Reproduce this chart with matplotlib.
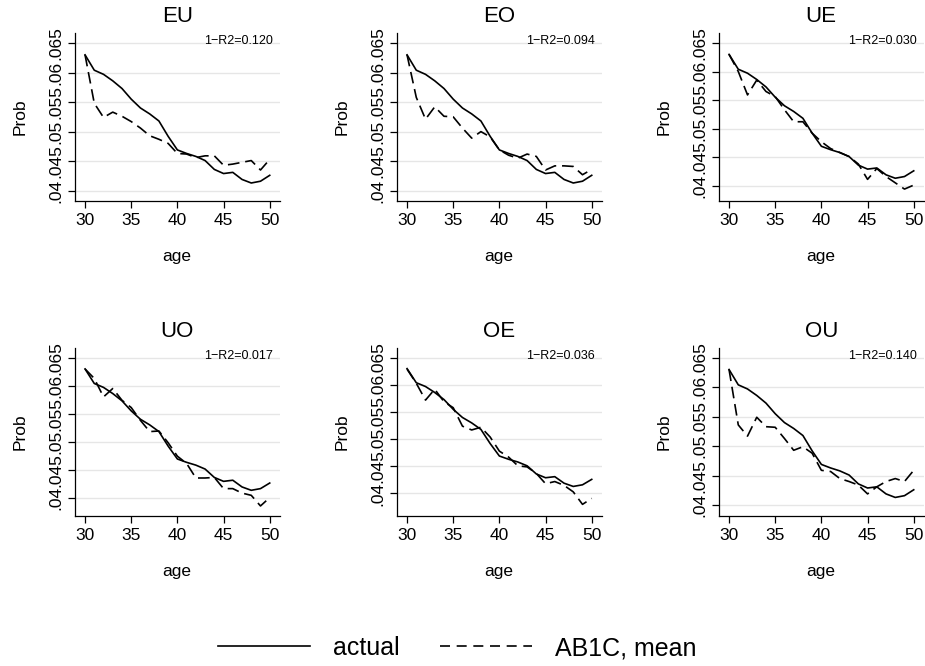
import matplotlib
matplotlib.use("Agg")
import matplotlib.pyplot as plt
from matplotlib.lines import Line2D

plt.rcParams["font.family"] = ["Liberation Sans", "DejaVu Sans"]

age = list(range(30, 51))

actual = [.0630, .0604, .0597, .0586, .0573, .0555, .0540, .0530, .0518, .0492, .0469,
          .0463, .0458, .0451, .0436, .0429, .0431, .0419, .0413, .0416, .0426]

sim_EU = [.0630, .0548, .0524, .0533, .0526, .0517, .0506, .0493, .0487, .0480, .0463,
          .0462, .0456, .0459, .0459, .0443, .0445, .0448, .0451, .0435, .0453]
sim_EO = [.0630, .0558, .0521, .0542, .0526, .0525, .0506, .0489, .0500, .0491, .0469,
          .0460, .0455, .0462, .0458, .0435, .0442, .0442, .0441, .0427, .0436]
sim_UE = [.0630, .0600, .0559, .0585, .0565, .0556, .0533, .0512, .0512, .0492, .0477,
          .0465, .0458, .0451, .0438, .0411, .0430, .0416, .0405, .0394, .0401]
sim_UO = [.0630, .0613, .0580, .0595, .0574, .0561, .0538, .0518, .0519, .0498, .0474,
          .0461, .0435, .0435, .0436, .0416, .0416, .0408, .0404, .0385, .0400]
sim_OE = [.0629, .0603, .0572, .0592, .0569, .0558, .0524, .0517, .0522, .0504, .0478,
          .0467, .0451, .0449, .0437, .0418, .0422, .0415, .0403, .0380, .0391]
sim_OU = [.0630, .0536, .0517, .0549, .0533, .0532, .0513, .0493, .0499, .0488, .0459,
          .0457, .0445, .0440, .0434, .0419, .0431, .0440, .0445, .0440, .0459]

panels = ["EU", "EO", "UE", "UO", "OE", "OU"]
sims = [sim_EU, sim_EO, sim_UE, sim_UO, sim_OE, sim_OU]
fit_text = ["1\u2212R2=0.120", "1\u2212R2=0.094", "1\u2212R2=0.030",
            "1\u2212R2=0.017", "1\u2212R2=0.036", "1\u2212R2=0.140"]
ylims = [(.0382, .06675), (.0382, .06675), (.03726, .0668),
         (.03665, .0668), (.0358, .06685), (.0381, .0667)]
yticks = [.04, .045, .05, .055, .06, .065]
ytick_labels = [".04", ".045", ".05", ".055", ".06", ".065"]
xticks = [30, 35, 40, 45, 50]

W, H = 925, 666
fig = plt.figure(figsize=(W / 100, H / 100), dpi=100)

lefts = [74.7, 396.7, 718.7]
tops = [32.7, 347.7]
aw, ah = 205, 168.6

dash = (0, (7, 3.5))

for i, name in enumerate(panels):
    r, c = divmod(i, 3)
    ax = fig.add_axes([lefts[c] / W, 1 - (tops[r] + ah) / H, aw / W, ah / H])
    ax.plot(age, actual, color="black", lw=1.2)
    ax.plot(age, sims[i], color="black", lw=1.2, linestyle=dash)
    ax.set_xlim(28.88, 51.08)
    ax.set_ylim(*ylims[i])
    ax.set_xticks(xticks)
    ax.set_yticks(yticks)
    ax.set_yticklabels(ytick_labels, rotation=90, va="center")
    ax.tick_params(axis="both", labelsize=12.5, length=5, width=0.9, direction="out")
    ax.tick_params(axis="y", pad=3)
    ax.grid(axis="y", color="#e6e6e6", lw=1)
    ax.set_axisbelow(True)
    for s in ["top", "right"]:
        ax.spines[s].set_visible(False)
    for s in ["left", "bottom"]:
        ax.spines[s].set_linewidth(0.9)
    ax.set_title(name, fontsize=16, pad=8)
    ax.set_xlabel("age", fontsize=12.5, labelpad=15)
    ax.set_ylabel("Prob", fontsize=12.5, labelpad=15)
    ax.text(0.968, 0.933, fit_text[i], transform=ax.transAxes, ha="right",
            va="baseline", fontsize=9)

handles = [Line2D([], [], color="black", lw=1.2),
           Line2D([], [], color="black", lw=1.2, linestyle=(0, (6, 4)))]
fig.legend(handles, ["actual", "AB1C, mean"], loc="center", ncol=2,
           bbox_to_anchor=(0.494, 0.027), frameon=False, fontsize=18,
           handlelength=3.7, handletextpad=0.9, columnspacing=1.6)

fig.savefig("out.png", dpi=100)
